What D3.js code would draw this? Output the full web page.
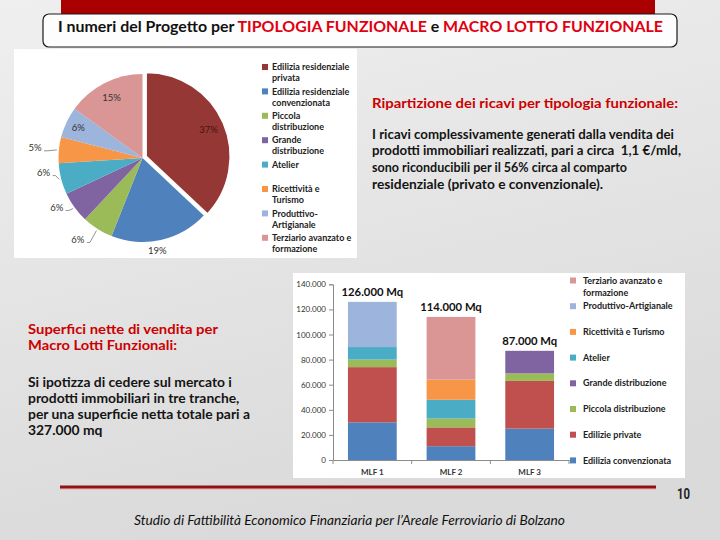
<!DOCTYPE html>
<html>
<head>
<meta charset="utf-8">
<script src="https://cdn.jsdelivr.net/npm/d3@7"></script>
<style>
  html, body { margin: 0; padding: 0; background: #e8e8e8; }
  svg { display: block; }
</style>
</head>
<body>
<div id="chart"></div>
<script>
// ---------------- DATA ----------------
const pieCategories = ["Edilizia residenziale privata", "Edilizia residenziale convenzionata", "Piccola distribuzione", "Grande distribuzione", "Atelier", "Ricettività e Turismo", "Produttivo-Artigianale", "Terziario avanzato e formazione"];
const pieLegendLines = [["Edilizia residenziale", "privata"], ["Edilizia residenziale", "convenzionata"], ["Piccola", "distribuzione"], ["Grande", "distribuzione"], ["Atelier"], ["Ricettività e", "Turismo"], ["Produttivo-", "Artigianale"], ["Terziario avanzato e", "formazione"]];
const pieValues = [37, 19, 6, 6, 6, 5, 6, 15];

const barCategories = ["MLF 1", "MLF 2", "MLF 3"];
const barSeries = ["Edilizia convenzionata", "Edilizie private", "Piccola distribuzione", "Grande distribuzione", "Atelier", "Ricettività e Turismo", "Produttivo-Artigianale", "Terziario avanzato e formazione"];
const barLegendLines = [["Edilizia convenzionata"], ["Edilizie private"], ["Piccola distribuzione"], ["Grande distribuzione"], ["Atelier"], ["Ricettività e Turismo"], ["Produttivo-Artigianale"], ["Terziario avanzato e", "formazione"]];
const ediliziaConvenzionata = [30000, 11000, 25000];
const ediliziePrivate = [44000, 15000, 38000];
const piccolaDistribuzione = [6000, 7000, 6000];
const grandeDistribuzione = [0, 0, 18000];
const atelier = [10000, 15000, 0];
const ricettivitaTurismo = [0, 16000, 0];
const produttivoArtigianale = [36000, 0, 0];
const terziarioAvanzato = [0, 50000, 0];
const yTicks = [0, 20000, 40000, 60000, 80000, 100000, 120000, 140000];

// ---------------- STYLE ----------------
const pieColors = ["#953735", "#4F81BD", "#9BBB59", "#8064A2", "#4BACC6", "#F79646", "#9DB4DD", "#D99694"];
const barColors = ["#4F81BD", "#C0504D", "#9BBB59", "#8064A2", "#4BACC6", "#F79646", "#9DB4DD", "#D99694"];
const FONT = "Lato, 'Open Sans', 'DejaVu Sans', sans-serif";

const svg = d3.select("#chart").append("svg").attr("width", 720).attr("height", 540);
const defs = svg.append("defs");
const bg = defs.append("linearGradient").attr("id", "bg").attr("x1", 0).attr("y1", 0).attr("x2", 0.3).attr("y2", 1);
bg.append("stop").attr("offset", "0%").attr("stop-color", "#efefef");
bg.append("stop").attr("offset", "100%").attr("stop-color", "#dadada");
svg.append("rect").attr("width", 720).attr("height", 540).attr("fill", "url(#bg)");

function fit(sel, w) { sel.attr("textLength", w).attr("lengthAdjust", "spacingAndGlyphs"); return sel; }
function condense(sel, f) {
  sel.each(function () { const n = this.getComputedTextLength(); d3.select(this).attr("textLength", n * f).attr("lengthAdjust", "spacingAndGlyphs"); });
}

// ---------------- TITLE ----------------
svg.append("rect").attr("x", 61).attr("y", 0).attr("width", 594).attr("height", 18).attr("fill", "#aa0000");
svg.append("rect").attr("x", 43).attr("y", 14).attr("width", 634).attr("height", 33).attr("rx", 6)
  .attr("fill", "#fdfdfd").attr("stroke", "#1a1a1a").attr("stroke-width", 1.2);
const title = svg.append("text").attr("x", 58).attr("y", 31.5).attr("font-family", FONT)
  .attr("font-size", 15).attr("font-weight", "bold").attr("fill", "#111");
title.append("tspan").text("I numeri del Progetto per ");
title.append("tspan").attr("fill", "#e00010").text("TIPOLOGIA FUNZIONALE");
title.append("tspan").text(" e ");
title.append("tspan").attr("fill", "#e00010").text("MACRO LOTTO FUNZIONALE");
fit(title, 605);

// ---------------- PIE ----------------
svg.append("rect").attr("x", 14).attr("y", 49).attr("width", 343).attr("height", 209).attr("fill", "#ffffff");
const pcx = 142.5, pcy = 158, pr = 84;
const pieArcs = d3.pie().sort(null).value(d => d)(pieValues);
const arc = d3.arc().innerRadius(0).outerRadius(pr);
const pieG = svg.append("g").attr("transform", `translate(${pcx},${pcy})`);
pieG.selectAll("path").data(pieArcs).join("path")
  .attr("d", arc)
  .attr("fill", (d, i) => pieColors[i])
  .attr("stroke", (d, i) => i === 0 ? "#ffffff" : "none")
  .attr("stroke-width", 1.5)
  .attr("transform", (d, i) => {
    if (i !== 0) return null;
    const m = (d.startAngle + d.endAngle) / 2;
    return `translate(${4 * Math.sin(m)},${-4 * Math.cos(m)})`;
  });
const labelRadius = [72, 94, 104, 99, 100, 108, 71, 68];
const labelShift = [0, 3.5, 6, 6, 6, 0, 0, 0];
pieArcs.forEach((d, i) => {
  const m = (d.startAngle + d.endAngle) / 2;
  const a = m + labelShift[i] * Math.PI / 180;
  const lx = labelRadius[i] * Math.sin(a), ly = -labelRadius[i] * Math.cos(a);
  pieG.append("text").attr("x", lx).attr("y", ly).attr("dy", "0.35em").attr("text-anchor", "middle")
    .attr("font-family", FONT).attr("font-size", 9.5).attr("fill", i === 0 ? "#4a1010" : "#333")
    .text(pieValues[i] + "%");
  if (labelRadius[i] > 95) {
    const ex = pr + 2;
    pieG.append("polyline")
      .attr("points", `${lx + 9},${ly + 3} ${lx + 12},${ly + 3} ${ex * Math.sin(m)},${-ex * Math.cos(m)}`)
      .attr("fill", "none").attr("stroke", "#777").attr("stroke-width", 0.8);
  }
});
const pLeg = svg.append("g");
pieLegendLines.forEach((lines, i) => {
  const y0 = 67 + i * 24.4;
  pLeg.append("rect").attr("x", 262).attr("y", y0 - 3).attr("width", 6).attr("height", 6).attr("fill", pieColors[i]);
  lines.forEach((t, j) => {
    pLeg.append("text").attr("x", 272).attr("y", y0 + j * 11).attr("dy", "0.35em")
      .attr("font-family", FONT).attr("font-size", 9).attr("font-weight", "bold").attr("fill", "#222")
      .text(t);
  });
});

// ---------------- RIGHT TEXT ----------------
const red = "#cc0000";
fit(svg.append("text").attr("x", 372).attr("y", 107.5).attr("font-family", FONT).attr("font-size", 13.5)
  .attr("font-weight", "bold").attr("fill", red).text("Ripartizione dei ricavi per tipologia funzionale:"), 306);
const para1 = [
  ["I ricavi complessivamente generati dalla vendita dei", 302],
  ["prodotti immobiliari realizzati, pari a circa  1,1 €/mld,", 309],
  ["sono riconducibili per il 56% circa al comparto", 255],
  ["residenziale (privato e convenzionale).", 231]
];
para1.forEach((p, i) => {
  fit(svg.append("text").attr("x", 372).attr("y", 138.5 + i * 16.8).attr("font-family", FONT).attr("font-size", 13.5)
    .attr("font-weight", "bold").attr("fill", "#141414").attr("xml:space", "preserve").text(p[0]), p[1]);
});

// ---------------- LEFT TEXT ----------------
const head2 = [["Superfici nette di vendita per", 190], ["Macro Lotti Funzionali:", 149]];
head2.forEach((p, i) => {
  fit(svg.append("text").attr("x", 28).attr("y", 333.5 + i * 16).attr("font-family", FONT).attr("font-size", 13)
    .attr("font-weight", "bold").attr("fill", red).text(p[0]), p[1]);
});
const para2 = ["Si ipotizza di cedere sul mercato i", "prodotti immobiliari in tre tranche,", "per una superficie netta totale pari a", "327.000 mq"];
const para2Nodes = para2.map((t, i) => svg.append("text").attr("x", 28).attr("y", 387 + i * 16).attr("font-family", FONT)
  .attr("font-size", 13.5).attr("font-weight", "bold").attr("fill", "#141414").text(t));
// one common squeeze factor so the longest line matches its measured width
const squeeze = 222 / para2Nodes[2].node().getComputedTextLength();
para2Nodes.forEach(n => condense(n, squeeze));

// ---------------- BAR CHART ----------------
svg.append("rect").attr("x", 293).attr("y", 273).attr("width", 392).attr("height", 205).attr("fill", "#ffffff");
const seriesValues = [ediliziaConvenzionata, ediliziePrivate, piccolaDistribuzione, grandeDistribuzione, atelier, ricettivitaTurismo, produttivoArtigianale, terziarioAvanzato];
const rows = barCategories.map((c, ci) => {
  const r = { cat: c };
  barSeries.forEach((s, si) => { r[s] = seriesValues[si][ci]; });
  return r;
});
const stacked = d3.stack().keys(barSeries)(rows);
const x = d3.scaleBand().domain(barCategories).range([333, 569]).paddingInner(0.38).paddingOuter(0.19);
const y = d3.scaleLinear().domain([0, 140000]).range([460, 284.3]);
const fmt = v => d3.format(",")(v).replace(/,/g, ".");

const yAxis = svg.append("g").attr("transform", "translate(333,0)")
  .call(d3.axisLeft(y).tickValues(yTicks).tickSize(4).tickPadding(3).tickFormat(fmt));
yAxis.select(".domain").attr("stroke", "#8c8c8c");
yAxis.selectAll(".tick line").attr("stroke", "#8c8c8c");
yAxis.selectAll("text").attr("font-family", FONT).attr("font-size", 8).attr("fill", "#333");

const xAxis = svg.append("g").attr("transform", "translate(0,460)")
  .call(d3.axisBottom(x).tickSize(0).tickPadding(9));
xAxis.select(".domain").attr("stroke", "#8c8c8c");
xAxis.selectAll("text").attr("font-family", FONT).attr("font-size", 8).attr("font-weight", "bold").attr("fill", "#333");
const step = x.step();
d3.range(4).forEach(k => {
  const bx = 333 + k * step;
  svg.append("line").attr("x1", bx).attr("x2", bx).attr("y1", 460).attr("y2", 464).attr("stroke", "#8c8c8c");
});

svg.append("g").selectAll("g").data(stacked).join("g")
  .attr("fill", (d, i) => barColors[i])
  .selectAll("rect").data(d => d).join("rect")
  .attr("x", d => x(d.data.cat))
  .attr("width", x.bandwidth())
  .attr("y", d => y(d[1]))
  .attr("height", d => y(d[0]) - y(d[1]));

barCategories.forEach((c, ci) => {
  const tot = d3.sum(seriesValues, s => s[ci]);
  const t = svg.append("text").attr("x", x(c) + x.bandwidth() / 2).attr("y", y(tot) - 6)
    .attr("text-anchor", "middle").attr("font-family", FONT).attr("font-size", 12).attr("font-weight", "bold")
    .attr("fill", "#111").text(fmt(tot) + " Mq");
  condense(t, 0.94);
});

const bLeg = svg.append("g");
const legOrder = d3.range(barSeries.length).reverse();
legOrder.forEach((si, k) => {
  const y0 = 280.5 + k * 25.7;
  bLeg.append("rect").attr("x", 570).attr("y", y0 - 3).attr("width", 6).attr("height", 6).attr("fill", barColors[si]);
  barLegendLines[si].forEach((t, j) => {
    bLeg.append("text").attr("x", 583).attr("y", y0 + j * 12).attr("dy", "0.35em")
      .attr("font-family", FONT).attr("font-size", 9).attr("font-weight", "bold").attr("fill", "#222")
      .text(t);
  });
});

// ---------------- FOOTER ----------------
svg.append("rect").attr("x", 60).attr("y", 488).attr("width", 596).attr("height", 2).attr("fill", "#f2b0b0").attr("opacity", 0.7);
svg.append("rect").attr("x", 60).attr("y", 485.5).attr("width", 596).attr("height", 3).attr("fill", "#8e1414");
fit(svg.append("text").attr("x", 677).attr("y", 499).attr("font-family", "Roboto, 'DejaVu Sans', sans-serif")
  .attr("font-size", 15).attr("font-weight", "bold").attr("fill", "#222").text("10"), 13);
fit(svg.append("text").attr("x", 134).attr("y", 525).attr("font-family", FONT).attr("font-size", 13)
  .attr("font-style", "italic").attr("fill", "#111").text("Studio di Fattibilità Economico Finanziaria per l’Areale Ferroviario di Bolzano"), 431);
</script>
</body>
</html>
